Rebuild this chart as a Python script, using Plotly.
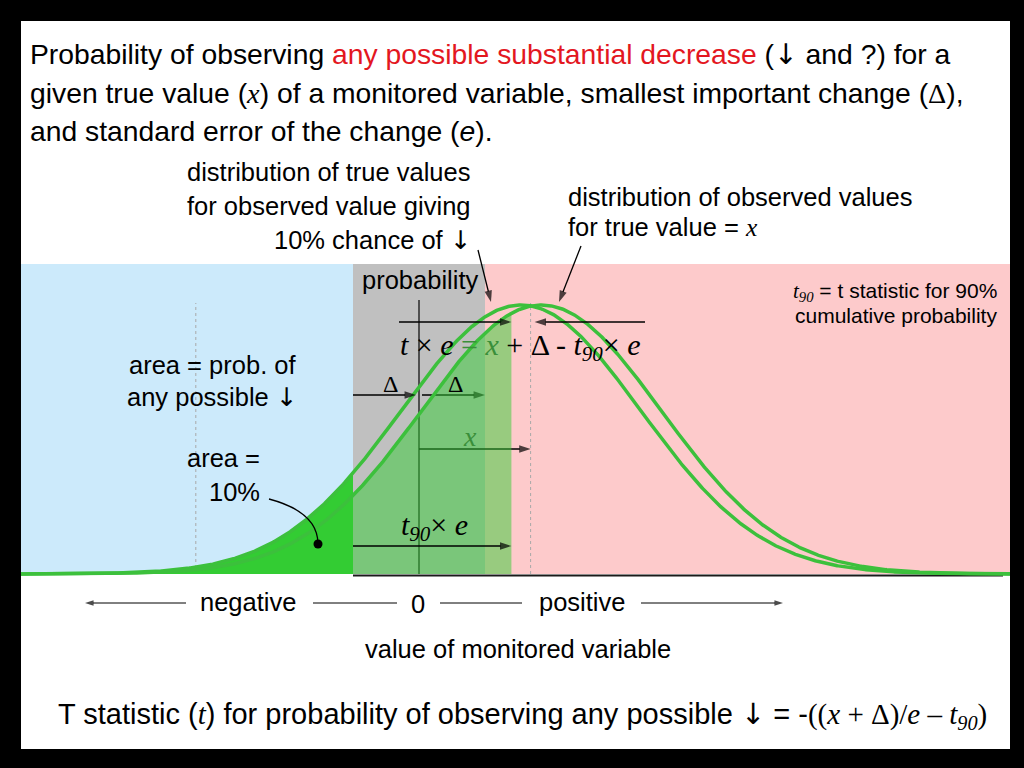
import numpy as np
import plotly.graph_objects as go

# ---------------- data (units: standard error e) ----------------
DELTA = 0.55                     # smallest important change (Δ)
SE = 1.0                         # standard error of the change (e)
T90 = 1.40                       # t statistic for 90% cumulative probability
X_TRUE = 0.93                    # true value x of the monitored variable
T_TIMES_E = 0.77                 # t × e position
LEFT_GUIDE = -1.86               # dotted guide in the negative region
CURVE_NAMES = ["distribution of true values", "distribution of observed values"]
CURVE_CENTERS = [-DELTA + T90 * SE, 1.02]

DOWN = "<span style='font-family:DejaVu Sans;color:black'>↓</span>"
TITLE_LINES = [
    "Probability of observing <span style='color:#e3171f'>any possible substantial decrease</span> (" + DOWN + " and ?) for a",
    "given true value (<span style='font-family:Liberation Serif'><i>x</i></span>) of a monitored variable, smallest important change (<span style='font-family:Liberation Serif'>Δ</span>),",
    "and standard error of the change (<i>e</i>).",
]
AXIS_WORDS = ["negative", "0", "positive"]
AXIS_TITLE = "value of monitored variable"

# ---------------- layout constants (pixel geometry of the page) ----------------
W, H = 1024, 768
X0_PX, PX_PER_X = 419, 120.0
Y0_PX, PX_PER_Y = 574, 269.0
PANEL = dict(left=21, right=1010, top=21, bottom=749)
REGION_TOP_PX = 264

SANS = "Liberation Sans, Arial, sans-serif"
SERIF = "Liberation Serif, Times New Roman, serif"

BLUE = "#cceafb"
GRAY = "#c0c0c0"
PINK = "#fdcacb"
GREEN = "#33cc33"
CURVE_GREEN = "#3cc03c"
TEXT_GREEN = "#3a8f3a"


def dx(px):
    return (px - X0_PX) / PX_PER_X


def dy(py):
    return (Y0_PX - py) / PX_PER_Y


def pxp(px):
    return px / W


def pyp(py):
    return 1 - py / H


def density(x, centre):
    z = (x - centre) / SE
    return np.exp(-0.5 * z * z)


fig = go.Figure()

# ---------------- backgrounds ----------------
fig.add_shape(type="rect", xref="paper", yref="paper",
              x0=pxp(PANEL["left"]), x1=pxp(PANEL["right"]),
              y0=pyp(PANEL["bottom"]), y1=pyp(PANEL["top"]),
              fillcolor="white", line_width=0, layer="below")
x_left, x_right = dx(PANEL["left"]), dx(PANEL["right"])
region_top = dy(REGION_TOP_PX)
for x0, x1, col in [(x_left, -DELTA, BLUE), (-DELTA, DELTA, GRAY), (DELTA, x_right, PINK)]:
    fig.add_shape(type="rect", xref="x", yref="y", x0=x0, x1=x1, y0=0, y1=region_top,
                  fillcolor=col, line_width=0, layer="below")

# dotted guides
guide_top = dy(303)
for gx in [LEFT_GUIDE, X_TRUE]:
    fig.add_shape(type="line", xref="x", yref="y", x0=gx, x1=gx, y0=0, y1=guide_top,
                  line=dict(color="#a8a8a8", width=1, dash="dot"), layer="below")
# vertical zero axis
fig.add_shape(type="line", xref="x", yref="y", x0=0, x1=0, y0=0, y1=dy(300),
              line=dict(color="#2a2a2a", width=1.5), layer="below")


def qpath(p0, c, p1):
    return "M {} {} Q {} {} {} {}".format(pxp(p0[0]), pyp(p0[1]), pxp(c[0]), pyp(c[1]),
                                            pxp(p1[0]), pyp(p1[1]))


# leader from "any possible ↓" (under the translucent fill)
fig.add_shape(type="path", xref="paper", yref="paper",
              path=qpath((303, 411), (415, 445), (433, 483)),
              line=dict(color="black", width=1.3), layer="below")
fig.add_shape(type="circle", xref="paper", yref="paper",
              x0=pxp(428.5), x1=pxp(437.5), y0=pyp(487.5), y1=pyp(478.5),
              fillcolor="black", line_width=0, layer="below")


# ---------------- arrows (line + oriented arrowhead marker) ----------------
def arrow(x0, y0, x1, y1, width=1.3, head=12):
    fig.add_trace(go.Scatter(
        x=[x0, x1], y=[y0, y1], mode="lines+markers",
        line=dict(color="black", width=width),
        marker=dict(symbol=["circle", "arrow"], size=[0, head], color="black",
                    angleref="previous", line_width=0),
        hoverinfo="skip", showlegend=False))


# beneath the translucent fill
arrow(3 / PX_PER_X, dy(395), DELTA, dy(395))
arrow(0, dy(449), X_TRUE, dy(449))

# ---------------- fills ----------------
xt = np.linspace(x_left, -DELTA, 300)
fig.add_trace(go.Scatter(x=xt, y=density(xt, CURVE_CENTERS[0]), mode="lines",
                         line=dict(width=0, color=GREEN), fill="tozeroy", fillcolor=GREEN,
                         hoverinfo="skip", showlegend=False))
xm = np.linspace(-DELTA, T_TIMES_E, 300)
fig.add_trace(go.Scatter(x=xm, y=density(xm, CURVE_CENTERS[1]), mode="lines",
                         line=dict(width=0, color=GREEN), fill="tozeroy",
                         fillcolor="rgba(51,204,51,0.5)",
                         hoverinfo="skip", showlegend=False))

# baseline
fig.add_trace(go.Scatter(x=[-DELTA, dx(1003)], y=[dy(575.5)] * 2, mode="lines",
                         line=dict(color="#1a1a1a", width=2), hoverinfo="skip", showlegend=False))

# curves
xc = np.linspace(x_left, x_right, 900)
for name, c in zip(CURVE_NAMES, CURVE_CENTERS):
    fig.add_trace(go.Scatter(x=xc, y=density(xc, c), mode="lines", name=name,
                             line=dict(color=CURVE_GREEN, width=3.5),
                             hoverinfo="skip", showlegend=False))

# arrows on top
arrow(dx(478), dy(250), dx(491), dy(302))                       # to true-value curve
arrow(dx(581), dy(246), dx(559), dy(302))                       # to observed-value curve
arrow(dx(399), dy(322), T_TIMES_E, dy(322))                     # t x e
arrow(dx(645), dy(322), X_TRUE + 4 / PX_PER_X, dy(322))
arrow(-DELTA, dy(395), -3 / PX_PER_X, dy(395))                  # first Δ
arrow(-DELTA, dy(546), T_TIMES_E, dy(546))                      # t90 x e
arrow(dx(186), dy(603), dx(85), dy(603), width=1, head=9)       # negative direction
arrow(dx(641), dy(603), dx(783), dy(603), width=1, head=9)      # positive direction
for a, b in [(313, 397), (440, 522)]:
    fig.add_shape(type="line", xref="paper", yref="paper", x0=pxp(a), x1=pxp(b),
                  y0=pyp(603), y1=pyp(603), line=dict(color="black", width=1))

# leader from "10%"
fig.add_shape(type="path", xref="paper", yref="paper",
              path=qpath((269, 499), (318, 512), (318, 544)),
              line=dict(color="black", width=1.3), layer="above")
fig.add_shape(type="circle", xref="paper", yref="paper",
              x0=pxp(313.5), x1=pxp(322.5), y0=pyp(548.5), y1=pyp(539.5),
              fillcolor="black", line_width=0, layer="above")


# ---------------- text ----------------
def text(s, x, y, size, anchor="left", color="black", family=SANS):
    fig.add_annotation(text=s, x=pxp(x), y=pyp(y), xref="paper", yref="paper",
                       xanchor=anchor, yanchor="middle", showarrow=False,
                       font=dict(size=size, color=color, family=family))


for line, yy in zip(TITLE_LINES, [54, 93, 131]):
    text(line, 28, yy, 28.3)

for line, yy in zip(["distribution of true values", "for observed value giving",
                     "10% chance of " + DOWN], [172, 206, 240]):
    text(line, 473, yy, 25.5, anchor="right")
text("probability", 360, 280, 25.5)
text("distribution of observed values", 566, 197, 25.5)
text("for true value = <span style='font-family:Liberation Serif'><i>x</i></span>", 566, 227, 25.5)
text("<span style='font-family:Liberation Serif'><i>t</i><sub><i>90</i></sub></span> = t statistic for 90%",
     999, 292, 21, anchor="right")
text("cumulative probability", 999, 316, 21, anchor="right")

text("<i>t</i> × <i>e</i> <span style='color:%s'>= <i>x</i></span> + Δ - <i>t</i><sub><i>90</i></sub>× <i>e</i>" % TEXT_GREEN,
     520, 347, 30, anchor="center", family=SERIF)
text("area = prob. of", 212, 365, 25.5, anchor="center")
text("any possible " + DOWN, 212, 397, 25.5, anchor="center")
text("area =", 262, 458, 25.5, anchor="right")
text("10%", 262, 492, 25.5, anchor="right")
text("Δ", 390, 384, 24, anchor="center", family=SERIF)
text("Δ", 455, 384, 24, anchor="center", family=SERIF)
text("<i>x</i>", 470, 436, 28, anchor="center", color=TEXT_GREEN, family=SERIF)
text("<i>t</i><sub><i>90</i></sub>× <i>e</i>", 434, 527, 30, anchor="center", family=SERIF)

for w, xx, yy in zip(AXIS_WORDS, [248, 418, 582], [602, 604, 602]):
    text(w, xx, yy, 25.5, anchor="center")
text(AXIS_TITLE, 518, 649, 25.5, anchor="center")
text("T statistic (<span style='font-family:Liberation Serif'><i>t</i></span>) for probability of observing any possible "
     + DOWN + " = -"
     "<span style='font-family:Liberation Serif'>((<i>x</i> + Δ)/<i>e</i> – <i>t</i><sub><i>90</i></sub>)</span>",
     522, 715, 29, anchor="center")

fig.update_xaxes(range=[dx(0), dx(W)], visible=False, showgrid=False, zeroline=False)
fig.update_yaxes(range=[dy(H), dy(0)], visible=False, showgrid=False, zeroline=False)
fig.update_layout(width=W, height=H, autosize=False,
                  margin=dict(l=0, r=0, t=0, b=0, pad=0),
                  paper_bgcolor="black", plot_bgcolor="black", showlegend=False)

fig.write_html("out.html", config={"displayModeBar": False},
               post_script="document.body.style.margin='0';document.body.style.background='black';")
